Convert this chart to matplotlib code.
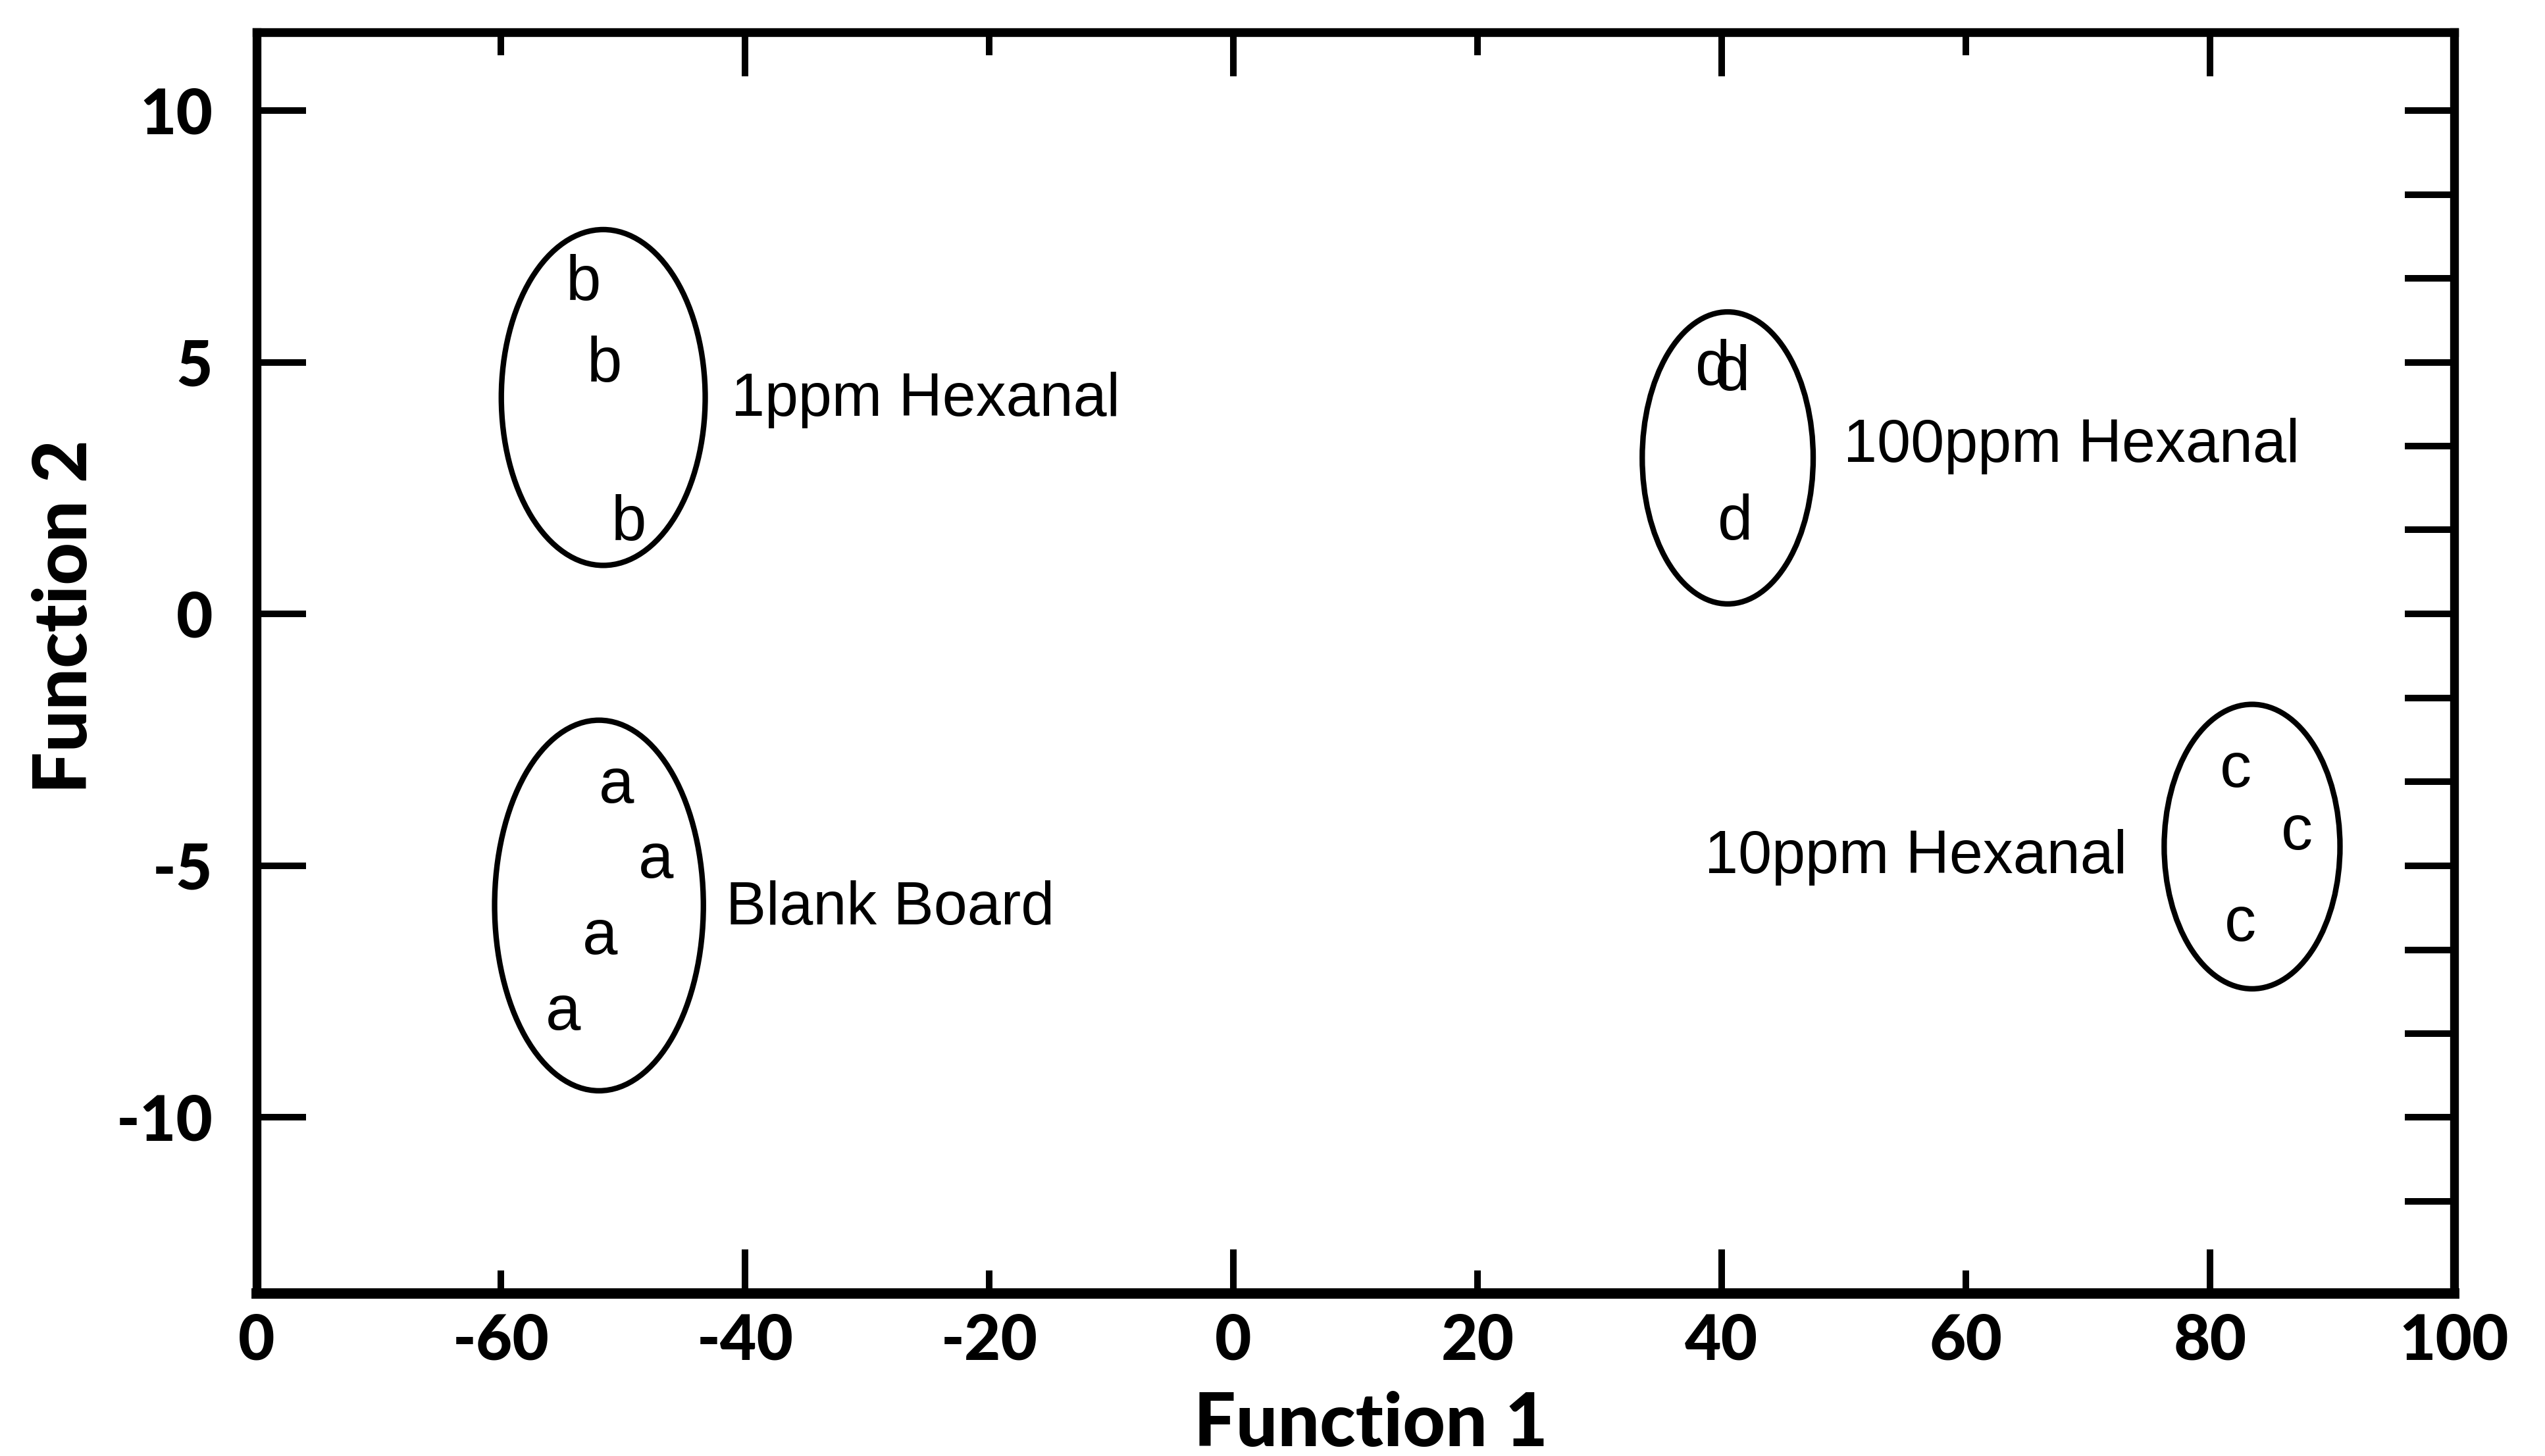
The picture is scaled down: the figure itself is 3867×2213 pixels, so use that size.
import matplotlib
matplotlib.use("Agg")
import matplotlib.pyplot as plt
from matplotlib.patches import Ellipse
from matplotlib.ticker import FixedLocator, FixedFormatter

# discriminant scores, one letter per sample (x = Function 1, y = Function 2 at letter baseline)
a_x = [-50.5, -47.3, -51.9, -54.9]
a_y = [-3.75, -5.24, -6.76, -8.25]
b_x = [-53.2, -51.5, -49.5]
b_y = [6.23, 4.62, 1.46]
c_x = [82.1, 87.1, 82.5]
c_y = [-3.44, -4.68, -6.49]
d_x = [39.3, 40.9, 41.1]
d_y = [4.55, 4.44, 1.48]

# group ellipses: centre, width, height (data units)
ell_cx = [-51.95, -51.6, 83.45, 40.5]
ell_cy = [-5.79, 4.30, -4.62, 3.10]
ell_w = [17.1, 16.7, 14.4, 14.0]
ell_h = [7.36, 6.67, 5.65, 5.8]

# group labels (left edge, baseline)
group_names = ["Blank Board", "1ppm Hexanal", "10ppm Hexanal", "100ppm Hexanal"]
name_x = [-41.55, -41.1, 38.6, 50.0]
name_y = [-6.16, 3.94, -5.14, 3.02]

xtick_vals = [-80, -60, -40, -20, 0, 20, 40, 60, 80, 100]
xtick_labels = ["0", "-60", "-40", "-20", "0", "20", "40", "60", "80", "100"]
long_xticks = [-40, 0, 40, 80]
ytick_vals = [-10, -5, 0, 5, 10]
ytick_labels = ["-10", "-5", "0", "5", "10"]
right_ticks = [10, 8.33, 6.67, 5, 3.33, 1.67, 0, -1.67, -3.33, -5, -6.67, -8.33, -10, -11.67]

tick_font = dict(family=["Lato", "DejaVu Sans"], weight="black", size=23)
text_font = ["Liberation Sans", "DejaVu Sans"]

fig = plt.figure(figsize=(3867 / 300, 2213 / 300), dpi=300)
ax = fig.add_axes([0.1008, 0.1115, 0.8635, 0.8662])
ax.set_xlim(-80, 100)
ax.set_ylim(-13.5, 11.55)

for sp in ax.spines.values():
    sp.set_linewidth(3.2)
ax.spines["bottom"].set_linewidth(3.8)

# letters
for xs, ys, letter in [(a_x, a_y, "a"), (b_x, b_y, "b"), (c_x, c_y, "c"), (d_x, d_y, "d")]:
    for x, y in zip(xs, ys):
        ax.text(x, y, letter, ha="center", va="baseline", fontsize=23, family=text_font)

for cx, cy, w, h in zip(ell_cx, ell_cy, ell_w, ell_h):
    ax.add_patch(Ellipse((cx, cy), w, h, fill=False, edgecolor="black", linewidth=2.0))

for name, x, y in zip(group_names, name_x, name_y):
    ax.text(x, y, name, ha="left", va="baseline", fontsize=22, family=text_font)

# x axis: ticks on top and bottom, alternating long/short
ax.xaxis.set_major_locator(FixedLocator(xtick_vals))
ax.xaxis.set_major_formatter(FixedFormatter(xtick_labels))
ax.tick_params(axis="x", which="major", direction="in", top=True, bottom=True,
               width=2.4, length=8.5, pad=7)
for val, tick in zip(xtick_vals, ax.xaxis.get_major_ticks()):
    if val in (-80, 100):
        L = 0
    elif val in long_xticks:
        L = 16
    else:
        L = 8.5
    tick.tick1line.set_markersize(L)
    tick.tick2line.set_markersize(L)

# y axis: labelled ticks on the left, finer unlabelled ticks on the right
ax.yaxis.remove_overlapping_locs = False
ax.yaxis.set_major_locator(FixedLocator(ytick_vals))
ax.yaxis.set_major_formatter(FixedFormatter(ytick_labels))
ax.yaxis.set_minor_locator(FixedLocator(right_ticks))
ax.tick_params(axis="y", which="major", direction="in", left=True, right=False,
               width=2.4, length=18, pad=16)
ax.tick_params(axis="y", which="minor", direction="in", left=False, right=True,
               width=2.4, length=18)

for lab in ax.get_xticklabels() + ax.get_yticklabels():
    lab.set_fontfamily(tick_font["family"])
    lab.set_fontweight(tick_font["weight"])
    lab.set_fontsize(tick_font["size"])

ax.set_xlabel("Function 1", family=["Lato", "DejaVu Sans"], weight="black", fontsize=27, va="center")
ax.xaxis.set_label_coords(0.507, -0.104)
ax.set_ylabel("Function 2", family=["Lato", "DejaVu Sans"], weight="black", fontsize=27, va="center")
ax.yaxis.set_label_coords(-0.087, 0.537)

fig.savefig("out.png", dpi=300)
